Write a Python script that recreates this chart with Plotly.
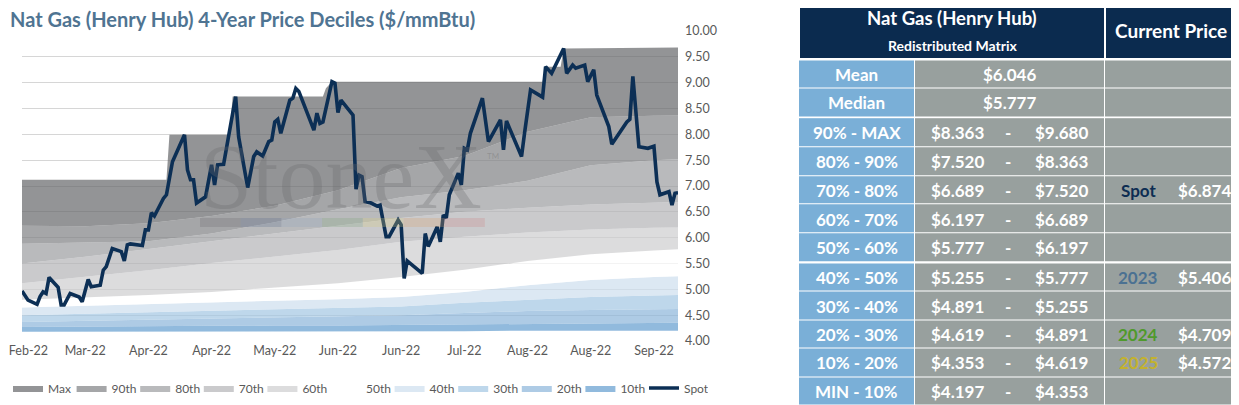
import pandas as pd
import plotly.graph_objects as go

start = pd.Timestamp("2022-02-22")

# spot price: day offset from start, $/mmBtu
spot_day = [0, 2, 5, 6, 7, 8, 9, 12, 13, 14, 16, 19, 20, 22, 23, 26, 27, 28, 30, 33,
            34, 35, 36, 40, 41, 42, 43, 44, 47, 48, 50, 54, 55, 56, 57, 58, 61, 63, 64, 65,
            67, 71, 72, 75, 77, 78, 80, 82, 83, 84, 85, 86, 89, 90, 91, 92, 97, 98, 99, 100,
            103, 104, 105, 106, 110, 111, 112, 113, 114, 116, 118, 119, 121, 122, 125, 126,
            127, 128, 133, 134, 135, 138, 139, 140, 141, 142, 145, 146, 147, 148, 149, 153,
            155, 159, 160, 161, 162, 166, 167, 169, 173, 174, 176, 180, 181, 183, 184, 187,
            188, 190, 191, 195, 196, 201, 202, 203, 205, 208, 210, 211, 212, 215, 216, 217, 218]
spot_px = [4.97, 4.79, 4.71, 4.86, 4.95, 4.92, 5.23, 5.04, 4.70, 4.70, 4.92, 4.85, 4.76, 5.19,
           5.05, 5.08, 5.37, 5.44, 5.79, 5.73, 5.55, 5.86, 5.88, 5.85, 6.15, 6.15, 6.48, 6.42,
           6.76, 6.83, 7.47, 7.99, 7.31, 7.12, 7.12, 6.67, 6.79, 7.41, 7.02, 7.41, 7.42, 8.73,
           7.95, 6.97, 7.57, 7.66, 7.58, 7.86, 7.89, 8.24, 8.29, 8.02, 8.66, 8.70, 8.89, 8.83,
           8.08, 8.41, 8.21, 8.24, 9.02, 8.99, 8.42, 8.66, 8.37, 6.94, 7.21, 7.18, 6.70, 6.67,
           6.61, 6.63, 6.02, 6.02, 6.34, 6.25, 5.21, 5.55, 5.31, 6.08, 5.83, 6.21, 5.92, 6.44,
           6.38, 6.83, 7.25, 7.02, 7.73, 7.70, 8.02, 8.70, 7.86, 8.28, 7.70, 8.26, 8.12, 7.57,
           8.02, 8.86, 8.72, 9.31, 9.18, 9.66, 9.18, 9.34, 9.28, 9.34, 9.02, 9.25, 8.76, 8.15,
           7.81, 8.24, 8.29, 9.12, 7.76, 7.73, 7.77, 7.08, 6.83, 6.89, 6.63, 6.86, 6.87]

# decile lines, sampled every three weeks
band_day = [0, 21, 42, 63, 84, 105, 126, 147, 168, 189, 210, 218]
p_min = [4.18, 4.18, 4.18, 4.19, 4.19, 4.19, 4.19, 4.19, 4.20, 4.20, 4.20, 4.197]
p10 = [4.27, 4.28, 4.28, 4.29, 4.30, 4.30, 4.31, 4.32, 4.33, 4.34, 4.35, 4.353]
p20 = [4.37, 4.39, 4.42, 4.44, 4.46, 4.48, 4.50, 4.54, 4.58, 4.60, 4.61, 4.619]
p30 = [4.50, 4.53, 4.56, 4.59, 4.62, 4.65, 4.67, 4.74, 4.80, 4.85, 4.88, 4.891]
p40 = [4.65, 4.68, 4.72, 4.75, 4.78, 4.81, 4.85, 4.95, 5.08, 5.18, 5.24, 5.255]
p50 = [4.80, 4.84, 4.89, 4.95, 5.03, 5.12, 5.24, 5.38, 5.55, 5.68, 5.75, 5.777]
p60 = [5.12, 5.24, 5.37, 5.51, 5.63, 5.76, 5.92, 6.02, 6.10, 6.16, 6.19, 6.197]
p70 = [5.50, 5.63, 5.78, 5.93, 6.07, 6.22, 6.38, 6.50, 6.58, 6.64, 6.68, 6.689]
p80 = [5.88, 5.90, 5.93, 6.08, 6.30, 6.55, 6.78, 6.92, 7.10, 7.40, 7.50, 7.520]
p90 = [6.23, 6.22, 6.28, 6.42, 6.62, 6.92, 7.35, 7.58, 8.05, 8.33, 8.36, 8.363]
max_day = [0, 48, 49, 69, 70, 100, 101, 103, 173, 174, 179, 180, 218]
p_max = [7.12, 7.12, 7.99, 7.99, 8.73, 8.73, 8.89, 9.02, 9.02, 9.31, 9.31, 9.66, 9.68]

band_names = ["10th", "20th", "30th", "40th", "50th", "60th", "70th", "80th", "90th", "Max"]
band_lines = [p10, p20, p30, p40, p50, p60, p70, p80, p90, p_max]
band_colors = ["rgba(98,157,206,0.7)", "rgba(140,181,218,0.7)", "rgba(163,198,227,0.7)",
               "rgba(205,222,238,0.7)", "rgba(255,255,255,0.7)", "rgba(205,205,207,0.7)",
               "rgba(180,180,182,0.7)", "rgba(155,156,159,0.7)", "rgba(127,128,131,0.7)",
               "rgba(101,102,105,0.7)"]

# x labels every three weeks
tick_day = [0, 21, 42, 63, 84, 105, 126, 147, 168, 189, 210]

# table
row_labels = ["Mean", "Median", "90% - MAX", "80% - 90%", "70% - 80%", "60% - 70%", "50% - 60%",
              "40% - 50%", "30% - 40%", "20% - 30%", "10% - 20%", "MIN - 10%"]
range_lo = [6.046, 5.777, 8.363, 7.520, 6.689, 6.197, 5.777, 5.255, 4.891, 4.619, 4.353, 4.197]
range_hi = [None, None, 9.680, 8.363, 7.520, 6.689, 6.197, 5.777, 5.255, 4.891, 4.619, 4.353]
cur_label = ["", "", "", "", "Spot", "", "", "2023", "", "2024", "2025", ""]
cur_value = [None, None, None, None, 6.874, None, None, 5.406, None, 4.709, 4.572, None]
cur_colors = {"Spot": "#0d2d52", "2023": "#4b7192", "2024": "#4f9a2c", "2025": "#c3b22e"}

FONT = "Lato"
GREY = "#595959"

# the page puts the figure 8px in from the top-left corner of the 1239x405 window,
# so size it to the visible part and place things in window pixels
OFF = 8
W, H = 1239 - OFF, 405 - OFF


def px(x):
    return (x - OFF) / W


def py(y):
    return 1 - (y - OFF) / H


def days_to_dates(days):
    return [start + pd.Timedelta(days=d) for d in days]


def money(v):
    return f"${v:.3f}"


tick_vals = days_to_dates(tick_day)
tick_text = [d.strftime("%b-%y") for d in tick_vals]
tick_text[0] = "\u00a0" * 4 + tick_text[0]   # keep the first label clear of the left edge

fig = go.Figure()

fig.add_trace(go.Scatter(x=days_to_dates(band_day), y=p_min, mode="lines",
                         line=dict(width=0), showlegend=False, hoverinfo="skip"))
for i, (name, vals, col) in enumerate(zip(band_names, band_lines, band_colors)):
    days = max_day if name == "Max" else band_day
    fig.add_trace(go.Scatter(x=days_to_dates(days), y=vals, name=name, mode="lines",
                             line=dict(width=0, color=col), fill="tonexty", fillcolor=col,
                             legendrank=len(band_names) - i, hoverinfo="skip"))
fig.add_trace(go.Scatter(x=days_to_dates(spot_day), y=spot_px, name="Spot", mode="lines",
                         line=dict(color="#0c2f55", width=3.6), legendrank=20))

# ---- matrix table, drawn as heatmap cells on its own pixel-unit axes (x2/y2) ----
col_edges = [0, 115.5, 305.5, 440]          # label | range | current price
head_edges = [0, 305.5, 440]
cell_colors = [[0, "#0b2b4f"], [0.5, "#7aafd7"], [1, "#98a09e"]]   # 0 navy, 1 blue, 2 grey

fig.add_trace(go.Heatmap(x=head_edges, y=[0, 57.5], z=[[0, 0]], zmin=0, zmax=2,
                         colorscale=cell_colors, showscale=False, xgap=2, hoverinfo="skip",
                         xaxis="x2", yaxis="y2"))

groups = [(0, 2, 60.5, 28.3), (2, 7, 118.2, 28.8), (7, 12, 263.5, 28.4)]
row_mid = []
for a, b, top, rh in groups:
    n = b - a
    y_edges = [top + k * rh for k in range(n + 1)]
    row_mid += [top + (k + 0.5) * rh for k in range(n)]
    fig.add_trace(go.Heatmap(x=col_edges, y=y_edges, z=[[1, 2, 2]] * n, zmin=0, zmax=2,
                             colorscale=cell_colors, showscale=False, xgap=1, ygap=1,
                             hoverinfo="skip", xaxis="x2", yaxis="y2"))

ann = []


def cell_text(x, y, text, color="white", size=17):
    ann.append(dict(x=x, y=y, xref="x2", yref="y2", text=f"<b>{text}</b>", showarrow=False,
                    xanchor="center", yanchor="middle",
                    font=dict(family=FONT, size=size, color=color)))


cell_text(153, 18, "Nat Gas (Henry Hub)", size=18.5)
cell_text(154, 45, "Redistributed Matrix", size=14)
cell_text(372, 30, "Current Price", size=19)
for i, ym in enumerate(row_mid):
    cell_text(57.5, ym, row_labels[i])
    if range_hi[i] is None:
        cell_text(210, ym, money(range_lo[i]))
    else:
        cell_text(158, ym, money(range_lo[i]))
        cell_text(209, ym, "-")
        cell_text(262, ym, money(range_hi[i]))
    if cur_value[i] is not None:
        cell_text(339, ym, cur_label[i], color=cur_colors[cur_label[i]])
        cell_text(405, ym, money(cur_value[i]))

ann += [
    dict(text="<b>Nat Gas (Henry Hub) 4-Year Price Deciles ($/mmBtu)</b>",
         xref="paper", yref="paper", x=0, y=py(19), xanchor="left",
         yanchor="middle", showarrow=False, font=dict(family=FONT, size=20, color="#4f7492")),
    dict(text="StoneX", xref="paper", yref="paper", x=px(341), y=py(176),
         xanchor="center", yanchor="middle", showarrow=False,
         font=dict(family="Liberation Serif", size=94, color="rgba(105,105,108,0.30)")),
    dict(text="TM", xref="paper", yref="paper", x=px(493), y=py(156),
         xanchor="center", yanchor="middle", showarrow=False,
         font=dict(family=FONT, size=8, color="rgba(120,120,120,0.45)")),
]

fig.update_layout(
    width=W, height=H, margin=dict(l=0, r=0, t=0, b=0, autoexpand=False),
    paper_bgcolor="white", plot_bgcolor="white",
    font=dict(family=FONT, color=GREY),
    showlegend=True,
    legend=dict(orientation="h", x=0, y=py(388), xanchor="left", yanchor="middle",
                font=dict(size=12, color=GREY), entrywidth=18.6, entrywidthmode="pixels",
                itemwidth=30, traceorder="normal", bgcolor="rgba(0,0,0,0)"),
    xaxis=dict(domain=[px(22), px(678)], type="date",
               range=[start, start + pd.Timedelta(days=218)],
               tickvals=tick_vals, ticktext=tick_text,
               showgrid=False, zeroline=False, showline=False, ticks="", automargin=False,
               ticklabeloverflow="allow", tickfont=dict(size=12.5, color=GREY)),
    yaxis=dict(domain=[py(341), py(31)], range=[4, 10], dtick=0.5, tickformat=".2f",
               side="right", gridcolor="#d6d6d6", gridwidth=1, zeroline=False, showline=False,
               ticks="", ticklabelstandoff=6, automargin=False,
               tickfont=dict(size=12.5, color=GREY)),
    xaxis2=dict(domain=[px(799), 1], range=[0, 440], visible=False, fixedrange=True,
                anchor="y2"),
    yaxis2=dict(domain=[0, 1], range=[405, OFF], visible=False, fixedrange=True, anchor="x2"),
    annotations=ann,
)

# watermark colour strip under the logo
strip = ["#6f7072", "#5e6f8e", "#93a6c0", "#82a57d", "#d8cb7c", "#dca770", "#cc8787"]
for k, c in enumerate(strip):
    fig.add_shape(type="rect", xref="paper", yref="paper",
                  x0=px(200 + k * 40.7), x1=px(200 + (k + 1) * 40.7),
                  y0=py(227), y1=py(218), fillcolor=c, opacity=0.28,
                  line=dict(width=0), layer="above")

fig.write_html("out.html")
